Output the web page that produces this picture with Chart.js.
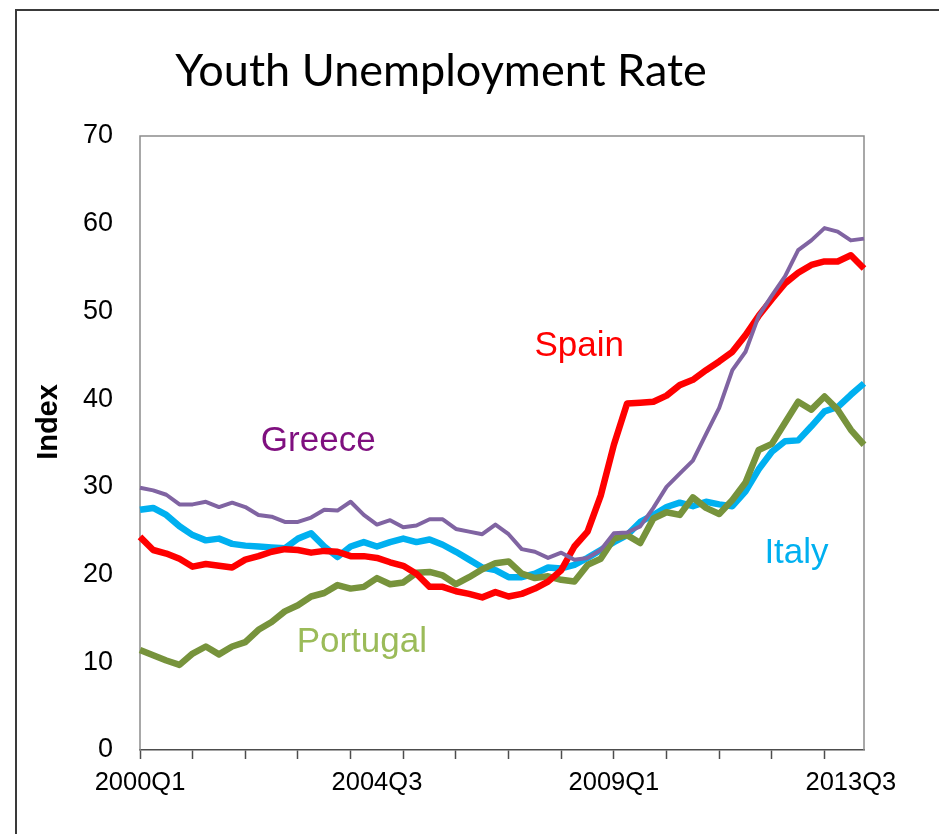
<!DOCTYPE html>
<html>
<head>
<meta charset="utf-8">
<title>Youth Unemployment Rate</title>
<script src="https://cdn.jsdelivr.net/npm/chart.js@4.4.1/dist/chart.umd.min.js"></script>
<style>
  html, body { margin: 0; padding: 0; background: #fff; overflow: hidden; }
  .frame {
    position: absolute; left: 15px; top: 9px; width: 1000px; height: 900px;
    border-left: 2px solid #3a3a3a; border-top: 2px solid #3a3a3a;
  }
  canvas { position: absolute; left: 0; top: 0; }
</style>
</head>
<body>
<div class="frame"></div>
<canvas class="youthChart" width="939" height="834"></canvas>
<script>
// quarterly periods, 2000Q1 .. 2013Q4
const quarters = [];
for (let y = 2000; y <= 2013; y++) {
  for (let q = 1; q <= 4; q++) quarters.push(`${y}Q${q}`);
}

const greece = [
  29.9, 29.6, 29.1, 28.0, 28.0, 28.3, 27.7, 28.2, 27.7, 26.8, 26.6, 26.0, 26.0, 26.5,
  27.4, 27.3, 28.3, 26.8, 25.7, 26.2, 25.4, 25.6, 26.3, 26.3, 25.2, 24.9, 24.6, 25.7,
  24.6, 22.9, 22.6, 21.9, 22.5, 21.7, 21.9, 22.8, 24.7, 24.8, 25.5, 27.6, 30.0, 31.5,
  33.0, 36.0, 39.0, 43.3, 45.4, 49.5, 51.8, 54.0, 57.0, 58.1, 59.5, 59.1, 58.1, 58.3,
];
const spain = [
  24.3, 22.8, 22.4, 21.8, 20.9, 21.2, 21.0, 20.8, 21.7, 22.1, 22.6, 22.9, 22.8, 22.5,
  22.7, 22.6, 22.1, 22.1, 21.9, 21.4, 21.0, 20.1, 18.6, 18.6, 18.1, 17.8, 17.4, 18.0,
  17.5, 17.8, 18.4, 19.2, 20.5, 23.2, 24.9, 29.0, 34.8, 39.5, 39.6, 39.7, 40.4, 41.6,
  42.2, 43.3, 44.3, 45.4, 47.3, 49.5, 51.4, 53.2, 54.4, 55.3, 55.7, 55.7, 56.4, 54.9,
];
const portugal = [
  11.4, 10.8, 10.2, 9.7, 11.0, 11.8, 10.9, 11.8, 12.3, 13.7, 14.6, 15.8, 16.5, 17.5,
  17.9, 18.8, 18.4, 18.6, 19.6, 18.9, 19.1, 20.2, 20.3, 19.9, 18.9, 19.7, 20.6, 21.3,
  21.5, 20.1, 19.6, 19.8, 19.4, 19.2, 21.1, 21.8, 24.1, 24.5, 23.6, 26.4, 27.1, 26.8,
  28.8, 27.6, 26.9, 28.5, 30.5, 34.2, 34.9, 37.3, 39.7, 38.8, 40.3, 38.8, 36.5, 34.8,
];
const italy = [
  27.4, 27.6, 26.8, 25.5, 24.5, 23.9, 24.1, 23.5, 23.3, 23.2, 23.1, 23.0, 24.1, 24.7,
  23.2, 22.0, 23.2, 23.7, 23.2, 23.7, 24.1, 23.7, 24.0, 23.4, 22.6, 21.7, 20.8, 20.5,
  19.7, 19.7, 20.1, 20.8, 20.7, 21.1, 21.9, 22.8, 23.7, 24.5, 26.0, 26.8, 27.7, 28.2,
  27.8, 28.3, 28.0, 27.8, 29.5, 32.0, 34.0, 35.2, 35.3, 36.9, 38.6, 39.1, 40.5, 41.8,
];

// in-chart series names, anchored in data units (quarter index, value)
const seriesTags = [
  { text: "Greece", color: "#7f0f7f", at: 13.54, value: 35.2 },
  { text: "Spain", color: "#ff0000", at: 33.36, value: 46.06 },
  { text: "Italy", color: "#00b0f0", at: 49.87, value: 22.46 },
  { text: "Portugal", color: "#9bbb59", at: 16.85, value: 12.26 },
];

const plotFrame = {
  id: "plotFrame",
  beforeDatasetsDraw(chart) {
    const { ctx, chartArea: a } = chart;
    ctx.save();
    ctx.strokeStyle = "#8c8c8c";
    ctx.lineWidth = 1.5;
    ctx.beginPath();
    ctx.moveTo(a.left, a.bottom);
    ctx.lineTo(a.left, a.top);
    ctx.lineTo(a.right, a.top);
    ctx.lineTo(a.right, a.bottom);
    ctx.stroke();
    ctx.restore();
  },
};

const textLabels = {
  id: "textLabels",
  afterDatasetsDraw(chart) {
    const { ctx, scales } = chart;
    ctx.save();
    ctx.textAlign = "center";
    ctx.textBaseline = "middle";
    ctx.font = "35px 'Liberation Sans', Arial, sans-serif";
    seriesTags.forEach((t) => {
      ctx.fillStyle = t.color;
      ctx.fillText(t.text, scales.x.getPixelForValue(t.at), scales.y.getPixelForValue(t.value));
    });

    // y axis title
    ctx.translate(48.5, 422);
    ctx.rotate(-Math.PI / 2);
    ctx.fillStyle = "#000";
    ctx.font = "bold 29px 'Liberation Sans', Arial, sans-serif";
    ctx.fillText("Index", 0, 0);
    ctx.restore();
  },
};

const chart = new Chart(document.querySelector(".youthChart"), {
  type: "line",
  data: {
    labels: quarters,
    datasets: [
      { label: "Greece", data: greece, borderColor: "#8064a2", borderWidth: 4 },
      { label: "Spain", data: spain, borderColor: "#ff0000", borderWidth: 6.5 },
      { label: "Portugal", data: portugal, borderColor: "#77933c", borderWidth: 6.5 },
      { label: "Italy", data: italy, borderColor: "#00b0f0", borderWidth: 6.5 },
    ],
  },
  options: {
    responsive: false,
    animation: false,
    devicePixelRatio: 1,
    layout: { padding: { left: 18, right: 75, top: 0, bottom: 0 } },
    elements: {
      point: { radius: 0 },
      line: { tension: 0, borderJoinStyle: "round", borderCapStyle: "butt" },
    },
    scales: {
      x: {
        offset: false,
        afterFit: (s) => { s.height = 84; },
        grid: {
          drawOnChartArea: false,
          tickLength: 9,
          tickWidth: 1.5,
          tickColor: (c) => (c.index % 4 === 0 ? "#4d4d4d" : "transparent"),
        },
        border: { color: "#4d4d4d", width: 1.5 },
        ticks: {
          autoSkip: false,
          maxRotation: 0,
          minRotation: 0,
          padding: 9,
          color: "#000",
          font: { family: "'Liberation Sans', Arial, sans-serif", size: 25.5 },
          callback: (v, i) => (i % 18 === 0 ? quarters[i] : ""),
        },
      },
      y: {
        min: 0,
        max: 70,
        afterFit: (s) => { s.width = 122; },
        grid: { display: false, drawTicks: false },
        border: { display: false },
        ticks: {
          stepSize: 10,
          padding: 27,
          color: "#000",
          font: { family: "'Liberation Sans', Arial, sans-serif", size: 27 },
        },
      },
    },
    plugins: {
      legend: { display: false },
      tooltip: { enabled: false },
      title: {
        display: true,
        text: "Youth Unemployment Rate",
        color: "#000",
        font: { family: "Lato, sans-serif", size: 45, weight: "normal" },
        padding: { top: 44, bottom: 38 },
      },
    },
  },
  plugins: [plotFrame, textLabels],
});
</script>
</body>
</html>
